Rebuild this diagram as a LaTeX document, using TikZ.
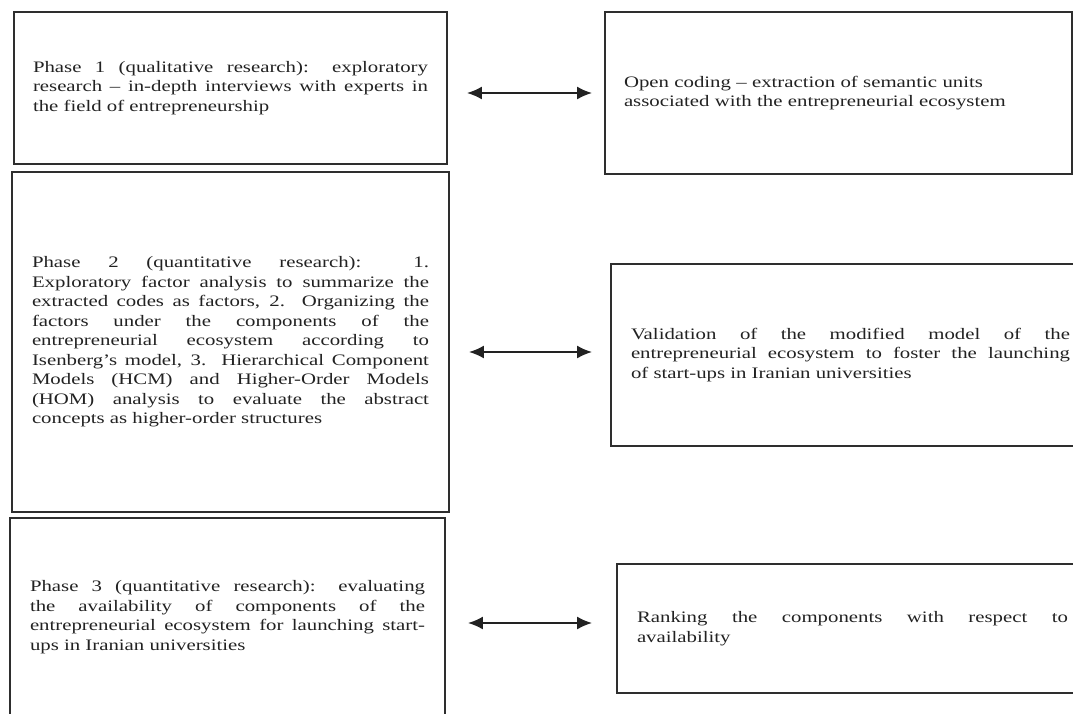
\documentclass[tikz,border=0pt]{standalone}
\usepackage{fontspec}
\setmainfont{Liberation Serif}[FakeStretch=1.3]
\usetikzlibrary{arrows.meta}
\definecolor{Tinta}{HTML}{222222}
\definecolor{Borde}{HTML}{2E2E2E}
\tolerance=10000
\hyphenpenalty=10000

\begin{document}
\begin{tikzpicture}[
  x=1pt,y=-1pt,
  caja/.style={rectangle,draw=Borde,line width=1.8pt,inner ysep=0pt,inner xsep=20pt,
    align=justify,text=Tinta,font=\fontsize{16}{19.5}\selectfont},
  flecha/.style={{Latex[length=15pt,width=13pt]}-{Latex[length=15pt,width=13pt]},
    line width=2pt,Tinta}
]
  \useasboundingbox (0,0) rectangle (1073,713);

  % Fase 1 y codificacion abierta
  \node[caja,text width=395pt,inner xsep=19pt,minimum height=152pt] (faseuno) at (230.5,88)
    {Phase 1 (qualitative research): exploratory\linebreak
     research – in-depth interviews with experts in\linebreak
     the field of entrepreneurship};
  \node[caja,align=left,text width=429pt,inner xsep=19pt,minimum height=162pt] (codif) at (838.5,93)
    {Open coding – extraction of semantic units\\
     associated with the entrepreneurial ecosystem};
  \draw[flecha,shorten <=19pt,shorten >=12pt] (faseuno.east |- codif.west) -- (codif.west);

  % Fase 2 y validacion del modelo
  \node[caja,text width=397pt,minimum height=340pt] (fasedos) at (230.5,342)
    {Phase 2 (quantitative research): 1.\linebreak
     Exploratory factor analysis to summarize the\linebreak
     extracted codes as factors, 2. Organizing the\linebreak
     factors under the components of the\linebreak
     entrepreneurial ecosystem according to\linebreak
     Isenberg’s model, 3. Hierarchical Component\linebreak
     Models (HCM) and Higher-Order Models\linebreak
     (HOM) analysis to evaluate the abstract\linebreak
     concepts as higher-order structures};
  \node[caja,text width=439pt,minimum height=182pt] (valid) at (850.5,355)
    {Validation of the modified model of the\linebreak
     entrepreneurial ecosystem to foster the launching\linebreak
     of start-ups in Iranian universities};
  \draw[flecha,shorten <=19pt,shorten >=18pt]
    (fasedos.east |- valid.west) ++(0,-3) coordinate (dosizq) -- (dosizq -| valid.west);

  % Fase 3 y ranking
  \node[caja,text width=395pt,minimum height=198pt] (fasetres) at (227.5,617)
    {Phase 3 (quantitative research): evaluating\linebreak
     the availability of components of the\linebreak
     entrepreneurial ecosystem for launching start-\linebreak
     ups in Iranian universities};
  \node[caja,text width=431pt,minimum height=129pt] (ranking) at (852.5,628.5)
    {Ranking the components with respect to\linebreak
     availability};
  \draw[flecha,shorten <=22pt,shorten >=24pt]
    (fasetres.east) ++(0,6) coordinate (tresizq) -- (tresizq -| ranking.west);
\end{tikzpicture}
\end{document}
